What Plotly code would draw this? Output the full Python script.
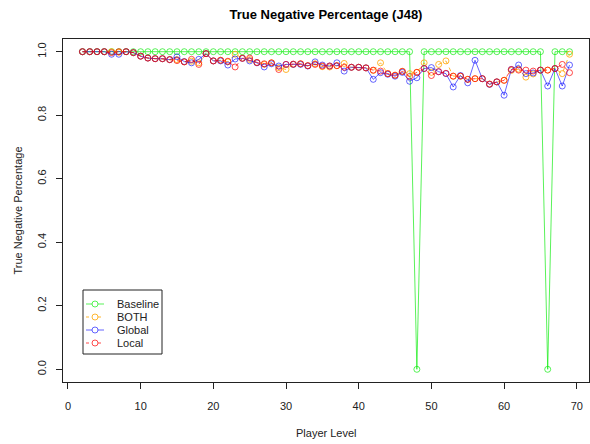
import plotly.graph_objects as go

# Player levels 2..69
levels = list(range(2, 70))

baseline = [1.0] * len(levels)
baseline[levels.index(48)] = 0.0
baseline[levels.index(66)] = 0.0

both = [1.000, 1.000, 1.000, 1.000, 1.000, 0.998, 1.000, 0.997, 0.986, 0.980,
        0.978, 0.978, 0.975, 0.975, 0.968, 0.970, 0.965, 0.994, 0.971, 0.973,
        0.968, 0.992, 0.980, 0.975, 0.966, 0.960, 0.965, 0.950, 0.944, 0.960,
        0.962, 0.956, 0.962, 0.953, 0.952, 0.956, 0.963, 0.951, 0.951, 0.949,
        0.941, 0.965, 0.931, 0.926, 0.938, 0.931, 0.935, 0.965, 0.935, 0.960,
        0.971, 0.923, 0.923, 0.913, 0.915, 0.915, 0.898, 0.905, 0.910, 0.941,
        0.945, 0.920, 0.930, 0.942, 0.942, 0.947, 0.931, 0.992]

global_ = [1.000, 1.000, 1.000, 1.000, 0.992, 0.992, 1.000, 0.997, 0.986, 0.980,
           0.978, 0.978, 0.975, 0.984, 0.969, 0.965, 0.976, 0.994, 0.971, 0.971,
           0.958, 0.977, 0.979, 0.971, 0.965, 0.952, 0.962, 0.955, 0.960, 0.960,
           0.960, 0.955, 0.968, 0.958, 0.955, 0.965, 0.939, 0.951, 0.951, 0.949,
           0.913, 0.934, 0.929, 0.923, 0.935, 0.907, 0.918, 0.947, 0.950, 0.937,
           0.931, 0.889, 0.925, 0.902, 0.973, 0.915, 0.897, 0.905, 0.863, 0.944,
           0.958, 0.931, 0.933, 0.942, 0.892, 0.947, 0.892, 0.958]

local = [1.000, 1.000, 1.000, 1.000, 0.997, 1.000, 1.000, 0.997, 0.986, 0.980,
         0.978, 0.978, 0.975, 0.972, 0.968, 0.976, 0.960, 0.994, 0.971, 0.973,
         0.970, 0.952, 0.979, 0.980, 0.966, 0.962, 0.965, 0.944, 0.960, 0.961,
         0.962, 0.956, 0.960, 0.955, 0.955, 0.956, 0.951, 0.951, 0.951, 0.949,
         0.942, 0.939, 0.931, 0.926, 0.938, 0.922, 0.935, 0.947, 0.925, 0.937,
         0.932, 0.923, 0.923, 0.913, 0.915, 0.915, 0.898, 0.905, 0.910, 0.944,
         0.942, 0.942, 0.939, 0.942, 0.942, 0.947, 0.960, 0.934]

x_ticks = [0, 10, 20, 30, 40, 50, 60, 70]
y_ticks = [0.0, 0.2, 0.4, 0.6, 0.8, 1.0]
y_tick_text = ["0.0", "0.2", "0.4", "0.6", "0.8", "1.0"]

series = [
    ("Baseline", baseline, "rgba(0,235,0,0.65)", "solid"),
    ("BOTH", both, "rgba(255,165,0,0.8)", "4px,4px"),
    ("Global", global_, "rgba(0,0,255,0.6)", "solid"),
    ("Local", local, "rgba(255,0,0,0.7)", "4px,4px"),
]

W, H = 590, 444
L, R, T, B = 63, 1, 39, 62
PW, PH = W - L - R, H - T - B


def px_x(px):
    """Pixel column -> paper x."""
    return (px - L) / PW


def px_y(py):
    """Pixel row -> paper y."""
    return (H - B - py) / PH


fig = go.Figure()
for name, vals, color, dash in series:
    fig.add_trace(go.Scatter(
        x=levels, y=vals, name=name, mode="lines+markers",
        line=dict(color=color, width=1, dash=dash),
        marker=dict(symbol="circle-open", size=6, color=color,
                    line=dict(color=color, width=1)),
        showlegend=False,
    ))

font = "Liberation Sans, Arial, sans-serif"

# Compact boxed legend in the lower-left corner of the plot
shapes = [dict(type="rect", xref="paper", yref="paper",
               x0=px_x(83), x1=px_x(162), y0=px_y(354), y1=px_y(290),
               line=dict(color="#222", width=1), fillcolor="white", layer="above")]
annotations = []
for i, (name, _, color, dash) in enumerate(series):
    cy = 304 + 13 * i
    shapes.append(dict(type="line", xref="paper", yref="paper",
                       x0=px_x(86), x1=px_x(104), y0=px_y(cy), y1=px_y(cy),
                       line=dict(color=color, width=1,
                                 dash="solid" if dash == "solid" else "3px,3px"),
                       layer="above"))
    shapes.append(dict(type="circle", xref="paper", yref="paper",
                       x0=px_x(92), x1=px_x(98), y0=px_y(cy + 3), y1=px_y(cy - 3),
                       line=dict(color=color, width=1), fillcolor="white",
                       layer="above"))
    annotations.append(dict(text=name, xref="paper", yref="paper",
                            x=px_x(115), y=px_y(cy), xanchor="left",
                            yanchor="middle", showarrow=False,
                            font=dict(family=font, size=11, color="#222")))

annotations += [
    dict(text="Player Level", xref="paper", yref="paper", x=0.5, y=0,
         xanchor="center", yanchor="middle", yshift=-51, showarrow=False,
         font=dict(family=font, size=11, color="#222")),
    dict(text="True Negative Percentage", xref="paper", yref="paper",
         x=0, y=0.5, xanchor="center", yanchor="middle", xshift=-46,
         textangle=-90, showarrow=False,
         font=dict(family=font, size=11, color="#222")),
]

axis_common = dict(
    showline=True, mirror=True, linecolor="#222", linewidth=1,
    ticks="outside", ticklen=6, tickcolor="#222", tickwidth=1,
    showgrid=False, zeroline=False,
    tickfont=dict(family=font, size=11, color="#222"),
)

fig.update_layout(
    width=W, height=H,
    margin=dict(l=L, r=R, t=T, b=B),
    paper_bgcolor="white", plot_bgcolor="white",
    title=dict(text="<b>True Negative Percentage (J48)</b>",
               x=(L + W - R) / 2 / W, xanchor="center",
               y=1 - 14 / H, yanchor="middle",
               font=dict(family=font, size=13, color="black")),
    xaxis=dict(range=[-0.68, 71.68], tickvals=x_ticks,
               ticklabelstandoff=8, **axis_common),
    yaxis=dict(range=[-0.04, 1.04], tickvals=y_ticks, ticktext=y_tick_text,
               tickangle=-90, ticklabelstandoff=6, **axis_common),
    showlegend=False,
    shapes=shapes,
    annotations=annotations,
)

fig.write_html("out.html")
